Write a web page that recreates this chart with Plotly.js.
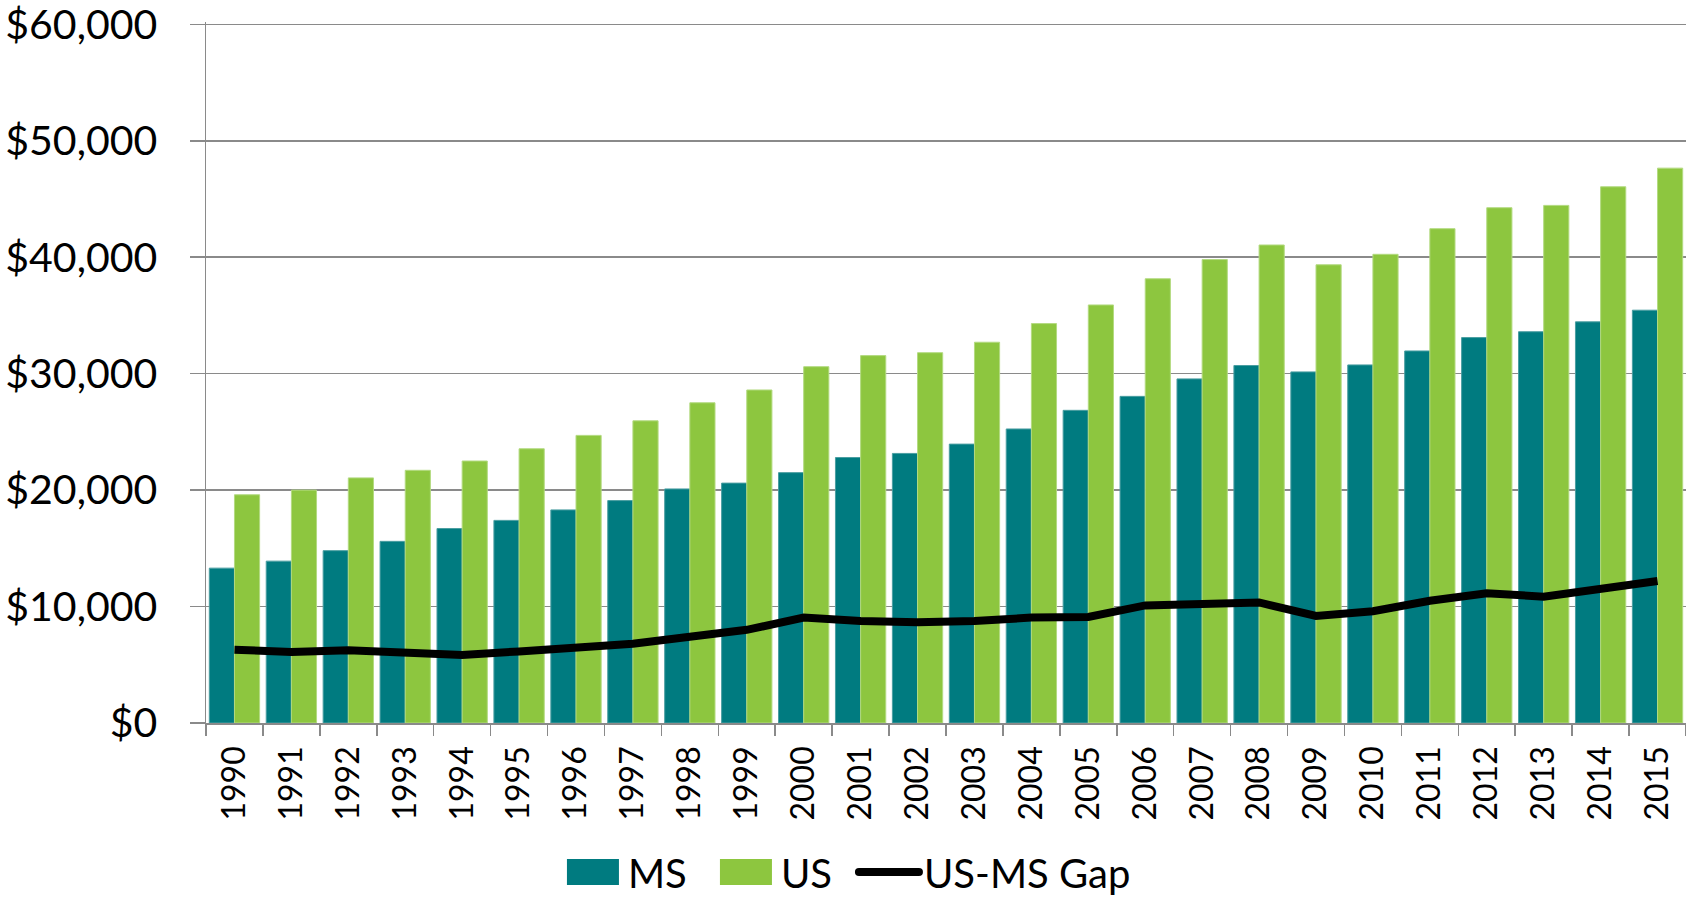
<!DOCTYPE html>
<html>
<head>
<meta charset="utf-8">
<script src="https://cdn.plot.ly/plotly-3.0.1.min.js"></script>
<style>
  html, body { margin: 0; padding: 0; background: #ffffff; }
  #chart { width: 1686px; height: 898px; }
</style>
</head>
<body>
<div id="chart"></div>
<script>
const years = ["1990","1991","1992","1993","1994","1995","1996","1997","1998","1999","2000","2001","2002","2003","2004","2005","2006","2007","2008","2009","2010","2011","2012","2013","2014","2015"];
const msValues = [13300, 13900, 14800, 15600, 16700, 17400, 18300, 19100, 20100, 20600, 21500, 22800, 23150, 23950, 25250, 26850, 28050, 29550, 30700, 30150, 30750, 31950, 33100, 33600, 34450, 35450];
const usValues = [19600, 20000, 21050, 21700, 22500, 23550, 24700, 25950, 27500, 28600, 30600, 31550, 31800, 32700, 34300, 35900, 38150, 39800, 41050, 39350, 40250, 42450, 44250, 44450, 46050, 47650];
const gapValues = [6300, 6100, 6250, 6100, 5850, 6150, 6400, 6800, 7400, 8000, 9050, 8750, 8650, 8750, 9050, 9100, 10100, 10250, 10350, 9200, 9600, 10500, 11150, 10850, 11600, 12200];
const seriesNames = ["MS", "US", "US-MS Gap"];
const yTickValues = [0, 10000, 20000, 30000, 40000, 50000, 60000];
const yTickLabels = ["$0", "$10,000", "$20,000", "$30,000", "$40,000", "$50,000", "$60,000"];

const FONT = "Lato, 'Open Sans', sans-serif";
const GRID = "#8a8a8a";

const traces = [
  { type: "bar", name: seriesNames[0], x: years, y: msValues, legendwidth: 78,
    marker: { color: "#007b80", line: { color: "#4a9ea1", width: 1 } }, hoverinfo: "x+y" },
  { type: "bar", name: seriesNames[1], x: years, y: usValues, legendwidth: 68,
    marker: { color: "#8dc63f", line: { color: "#b3da80", width: 1 } }, hoverinfo: "x+y" },
  { type: "scatter", mode: "lines", name: seriesNames[2], x: years, y: gapValues,
    line: { color: "#000000", width: 8 }, hoverinfo: "x+y" }
];

const layout = {
  width: 1686, height: 898,
  margin: { l: 206, r: 0, t: 22, b: 175, pad: 0, autoexpand: false },
  paper_bgcolor: "#ffffff", plot_bgcolor: "#ffffff",
  font: { family: FONT, color: "#000000" },
  barmode: "group", bargap: 0.116, bargroupgap: 0,
  showlegend: true,
  legend: {
    orientation: "h", x: 0.2378, xanchor: "left", y: -0.2126, yanchor: "middle",
    font: { family: FONT, size: 40, color: "#000000" },
    itemwidth: 60, traceorder: "normal", bgcolor: "rgba(0,0,0,0)"
  },
  xaxis: {
    type: "category", range: [-0.5, 25.5], fixedrange: true,
    showline: true, linecolor: GRID, linewidth: 1.5,
    ticks: "outside", tickson: "boundaries", ticklen: 11, tickcolor: GRID, tickwidth: 1.5,
    tickangle: -90, tickfont: { family: FONT, size: 32, color: "#000000" },
    ticklabelstandoff: 9,
    showgrid: false, zeroline: false
  },
  yaxis: {
    range: [0, 60200], tickmode: "array", tickvals: yTickValues, ticktext: yTickLabels, fixedrange: true,
    showline: true, linecolor: GRID, linewidth: 1.5,
    ticks: "outside", ticklen: 15, tickcolor: GRID, tickwidth: 1.5,
    showgrid: true, gridcolor: GRID, gridwidth: 1.5,
    zeroline: false, ticklabeloverflow: "allow",
    tickfont: { family: FONT, size: 41, color: "#000000" },
    ticklabelstandoff: 24
  }
};

Plotly.newPlot("chart", traces, layout, { displayModeBar: false, staticPlot: true }).then(function (gd) {
  const items = gd.querySelectorAll(".legend .traces");
  items.forEach(function (g, i) {
    if (i < 2) {
      g.querySelectorAll(".legendpoints path").forEach(function (p) {
        p.setAttribute("d", "M26,13H-26V-13H26Z");
        p.style.strokeWidth = "0px";
      });
    } else {
      g.querySelectorAll(".legendlines path").forEach(function (p) {
        p.style.strokeLinecap = "round";
      });
    }
  });
});
</script>
</body>
</html>
